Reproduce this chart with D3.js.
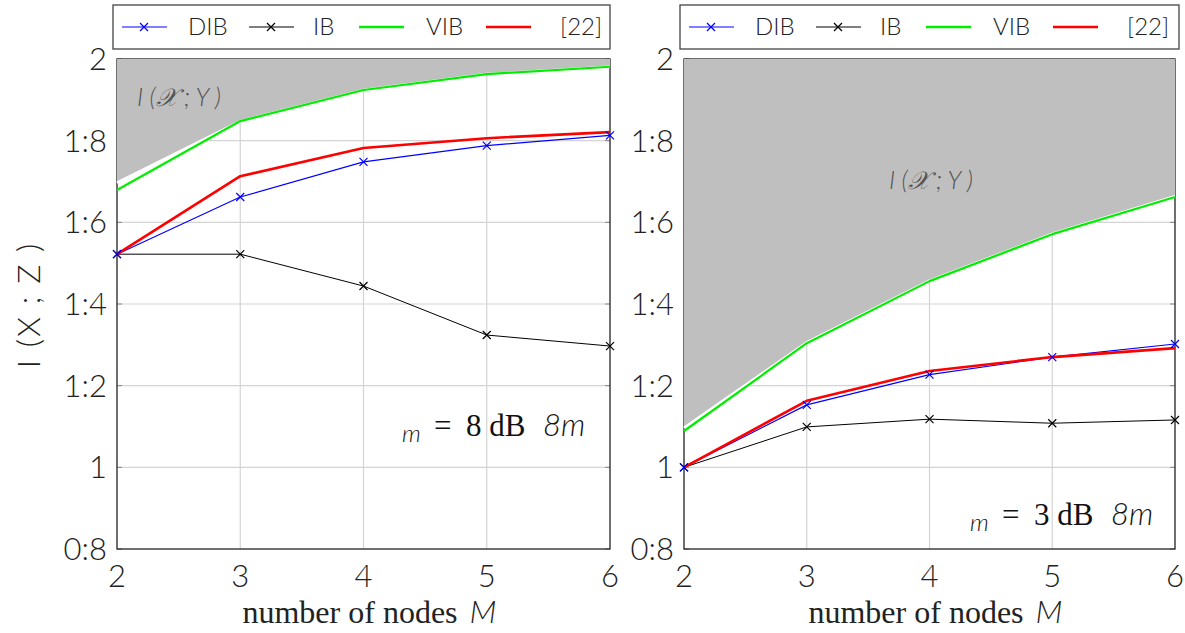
<!DOCTYPE html>
<html>
<head>
<meta charset="utf-8">
<script src="https://cdn.jsdelivr.net/npm/d3@7"></script>
<style>
  body { margin: 0; background: #fff; }
  svg { display: block; }
  .sans { font-family: Lato, "Open Sans", "DejaVu Sans", sans-serif; font-weight: 300; }
  .serif { font-family: "Liberation Serif", "DejaVu Serif", serif; }
</style>
</head>
<body>
<div id="chart"></div>
<script>
// Data
const nodesM = [2, 3, 4, 5, 6];
const yTicks = [0.8, 1, 1.2, 1.4, 1.6, 1.8, 2];
const seriesNames = ["DIB", "IB", "VIB", "[22]"];

// left panel (8 dB)
const boundLeft = [1.697, 1.848, 1.924, 1.963, 1.981];
const vibLeft   = [1.679, 1.848, 1.924, 1.963, 1.981];
const refLeft   = [1.522, 1.713, 1.782, 1.806, 1.821];
const dibLeft   = [1.522, 1.662, 1.748, 1.788, 1.813];
const ibLeft    = [1.522, 1.522, 1.444, 1.324, 1.297];

// right panel (3 dB)
const boundRight = [1.097, 1.306, 1.457, 1.572, 1.664];
const vibRight   = [1.089, 1.304, 1.456, 1.571, 1.662];
const refRight   = [1.000, 1.163, 1.236, 1.270, 1.292];
const dibRight   = [1.000, 1.153, 1.227, 1.270, 1.302];
const ibRight    = [1.000, 1.099, 1.118, 1.108, 1.116];

const W = 1185, H = 633;
const svg = d3.select("#chart").append("svg").attr("width", W).attr("height", H);

const styles = {
  "DIB":  { color: "#0000ff", width: 1.2, marker: true },
  "IB":   { color: "#000000", width: 1.0, marker: true },
  "VIB":  { color: "#00ee00", width: 2.2, marker: false },
  "[22]": { color: "#ff0000", width: 2.6, marker: false }
};

function drawPanel(p) {
  const x = d3.scaleLinear().domain([2, 6]).range([p.left, p.right]);
  const y = d3.scaleLinear().domain([0.8, 2]).range([549, 59]);
  const g = svg.append("g");

  // grid
  g.append("g").selectAll("line").data(nodesM.slice(1, -1)).enter().append("line")
    .attr("x1", d => x(d)).attr("x2", d => x(d)).attr("y1", y(0.8)).attr("y2", y(2))
    .attr("stroke", "#d4d4d4").attr("stroke-width", 1.2);
  g.append("g").selectAll("line").data(yTicks.slice(1, -1)).enter().append("line")
    .attr("x1", x(2)).attr("x2", x(6)).attr("y1", d => y(d)).attr("y2", d => y(d))
    .attr("stroke", "#d4d4d4").attr("stroke-width", 1.2);

  // inner ticks
  g.append("g").selectAll("line").data(yTicks).enter().append("line")
    .attr("x1", x(2)).attr("x2", x(2) + 5).attr("y1", d => y(d)).attr("y2", d => y(d))
    .attr("stroke", "#888");
  g.append("g").selectAll("line").data(yTicks).enter().append("line")
    .attr("x1", x(6) - 5).attr("x2", x(6)).attr("y1", d => y(d)).attr("y2", d => y(d))
    .attr("stroke", "#888");

  // frame
  g.append("rect").attr("x", x(2)).attr("y", y(2))
    .attr("width", x(6) - x(2)).attr("height", y(0.8) - y(2))
    .attr("fill", "none").attr("stroke", "#222").attr("stroke-width", 1.3);

  // I(X;Y) region
  const area = d3.area().x((d, i) => x(nodesM[i])).y0(y(2)).y1(d => y(d));
  g.append("path").datum(p.bound).attr("d", area).attr("fill", "#bfbfbf");
  const line = d3.line().x((d, i) => x(nodesM[i])).y(d => y(d));
  g.append("path").datum(p.bound).attr("d", line)
    .attr("fill", "none").attr("stroke", "#fff").attr("stroke-width", 2.5);

  // series
  const data = { "DIB": p.dib, "IB": p.ib, "VIB": p.vib, "[22]": p.ref };
  ["VIB", "IB", "DIB", "[22]"].forEach(name => {
    const s = styles[name];
    g.append("path").datum(data[name]).attr("d", line)
      .attr("fill", "none").attr("stroke", s.color).attr("stroke-width", s.width)
      .attr("stroke-linejoin", "round");
  });
  ["IB", "DIB"].forEach(name => {
    const s = styles[name];
    g.append("g").selectAll("path").data(data[name]).enter().append("path")
      .attr("transform", (d, i) => `translate(${x(nodesM[i])},${y(d)})`)
      .attr("d", "M-4,-4L4,4M-4,4L4,-4")
      .attr("stroke", s.color).attr("stroke-width", 1.2);
  });

  // tick labels
  g.append("g").selectAll("text").data(yTicks).enter().append("text")
    .attr("class", "sans").attr("x", x(2) - 10).attr("y", d => y(d) + 11)
    .attr("text-anchor", "end").attr("font-size", 31).attr("fill", "#222")
    .text(d => String(d).replace(".", ":"));
  g.append("g").selectAll("text").data(nodesM).enter().append("text")
    .attr("class", "sans").attr("x", d => x(d)).attr("y", 587)
    .attr("text-anchor", "middle").attr("font-size", 31).attr("fill", "#222")
    .text(d => d);

  // x label
  const xl = g.append("text").attr("x", (p.left + p.right) / 2 + 6).attr("y", 623)
    .attr("text-anchor", "middle").attr("font-size", 32).attr("fill", "#222");
  xl.append("tspan").attr("class", "serif").text("number of nodes ");
  xl.append("tspan").attr("class", "sans").attr("font-style", "italic").attr("dx", 4).text("M");

  // I(X;Y) label
  g.append("text").attr("class", "sans").attr("x", p.lblX).attr("y", p.lblY)
    .attr("font-size", 25).attr("font-style", "italic").attr("fill", "#555")
    .text("I (\u{1D4B3} ; Y )");

  // snr annotation
  const ax = p.annX, ay = p.annY;
  g.append("text").attr("class", "sans").attr("x", ax).attr("y", ay + 6)
    .attr("font-size", 24).attr("font-style", "italic").attr("fill", "#111").text("m");
  g.append("text").attr("class", "serif").attr("x", ax + 32).attr("y", ay)
    .attr("font-size", 31).attr("fill", "#111").text("=");
  g.append("text").attr("class", "serif").attr("x", ax + 64).attr("y", ay)
    .attr("font-size", 31).attr("fill", "#111").text(p.snr + " dB");
  g.append("text").attr("class", "sans").attr("x", ax + 141).attr("y", ay)
    .attr("font-size", 31).attr("font-style", "italic").attr("fill", "#111").text("8m");

  // legend
  const lg = svg.append("g");
  lg.append("rect").attr("x", p.legX).attr("y", 5).attr("width", p.legW).attr("height", 44)
    .attr("fill", "#fff").attr("stroke", "#444").attr("stroke-width", 1.3);
  const offs = [0, 127, 237, 364];
  const txtOffs = [66, 191, 304, 438];
  seriesNames.forEach((name, i) => {
    const s = styles[name];
    const lx = p.legX + 9 + offs[i];
    lg.append("line").attr("x1", lx).attr("x2", lx + 45).attr("y1", 27).attr("y2", 27)
      .attr("stroke", s.color).attr("stroke-width", s.marker ? 1.2 : 2.4);
    if (s.marker) {
      lg.append("path").attr("transform", `translate(${lx + 22},27)`)
        .attr("d", "M-4,-4L4,4M-4,4L4,-4").attr("stroke", s.color).attr("stroke-width", 1.2);
    }
    lg.append("text").attr("class", "sans").attr("x", p.legX + 9 + txtOffs[i]).attr("y", 35)
      .attr("font-size", 24).attr("fill", "#222").text(name);
  });
}

drawPanel({ left: 117, right: 610, bound: boundLeft, vib: vibLeft, ref: refLeft,
  dib: dibLeft, ib: ibLeft, lblX: 137, lblY: 106, annX: 402, annY: 436, snr: 8,
  legX: 113, legW: 497 });
drawPanel({ left: 684, right: 1175, bound: boundRight, vib: vibRight, ref: refRight,
  dib: dibRight, ib: ibRight, lblX: 889, lblY: 189, annX: 970, annY: 525, snr: 3,
  legX: 680, legW: 499 });

// y label
svg.append("text").attr("class", "sans")
  .attr("transform", "translate(40,305) rotate(-90)")
  .attr("text-anchor", "middle").attr("font-size", 32).attr("fill", "#222")
  .attr("letter-spacing", 2)
  .text("I (X ; Z )");
</script>
</body>
</html>
